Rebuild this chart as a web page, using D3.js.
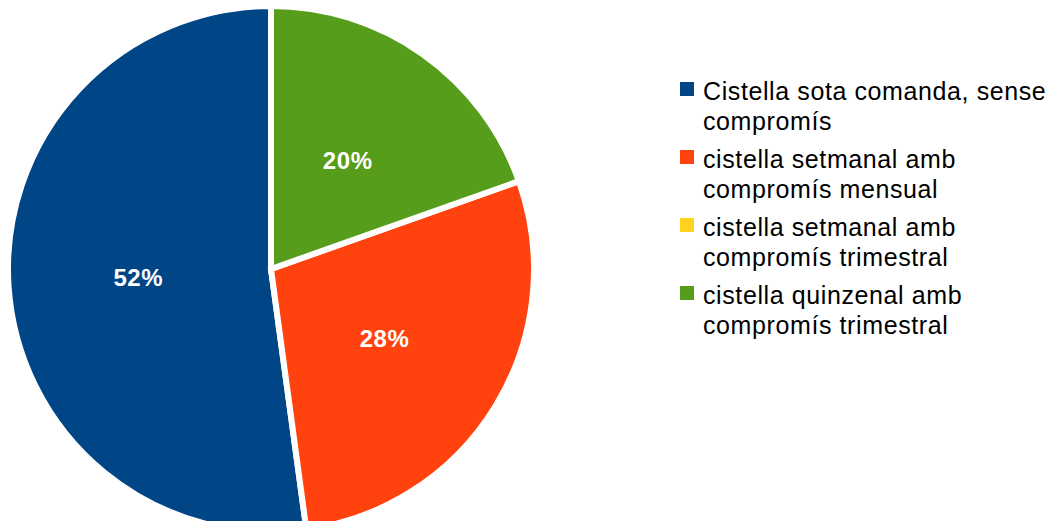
<!DOCTYPE html>
<html lang="ca">
<head>
    <meta charset="UTF-8">
    <title>Cistelles</title>
    <script src="https://d3js.org/d3.v7.min.js"></script>
    <style>
        body { margin: 0; background: #fff; }
        svg { display: block; }
        .legend text { font-family: "Liberation Sans", Arial, sans-serif; font-size: 25px; letter-spacing: 0.6px; fill: #000; }
        .label { font-family: "Liberation Sans", Arial, sans-serif; font-size: 24px; font-weight: bold; letter-spacing: 0.6px; fill: #fff; }
    </style>
</head>
<body>
    <svg id="chart" width="1057" height="521"></svg>

    <script>
        // data (percent of answers)
        const categories = [
            ["Cistella sota comanda, sense", "compromís"],
            ["cistella setmanal amb", "compromís mensual"],
            ["cistella setmanal amb", "compromís trimestral"],
            ["cistella quinzenal amb", "compromís trimestral"]
        ];
        const values = [52.2, 28.3, 0, 19.6];
        const colors = ["#004586", "#ff420e", "#ffd320", "#579d1c"];

        const svg = d3.select("#chart"),
              cx = 271, cy = 269,
              radius = 263;

        const data = values.map((v, i) => ({ name: categories[i].join(" "), value: v, color: colors[i] }));

        // counter-clockwise from 12 o'clock, like the original
        const pie = d3.pie().sort(null).value(d => d.value)
                      .startAngle(0).endAngle(-2 * Math.PI);
        const arc = d3.arc().innerRadius(0).outerRadius(radius);
        const labelArc = d3.arc().innerRadius(133).outerRadius(133);

        const g = svg.append("g").attr("transform", "translate(" + cx + "," + cy + ")");

        const arcs = pie(data).filter(d => d.data.value > 0);

        g.selectAll("path")
         .data(arcs)
         .enter().append("path")
         .attr("d", arc)
         .attr("fill", d => d.data.color)
         .attr("stroke", "#fff")
         .attr("stroke-width", 6)
         .attr("stroke-linejoin", "miter");

        const total = d3.sum(values);
        g.selectAll("text.label")
         .data(arcs)
         .enter().append("text")
         .attr("class", "label")
         .attr("transform", d => "translate(" + labelArc.centroid(d) + ")")
         .attr("text-anchor", "middle")
         .attr("dy", "0.35em")
         .text(d => Math.round(d.data.value / total * 100) + "%");

        // legend
        const legend = svg.append("g").attr("class", "legend");
        const entry = legend.selectAll("g")
            .data(data)
            .enter().append("g")
            .attr("transform", (d, i) => "translate(680," + (82 + i * 68) + ")");

        entry.append("rect")
             .attr("width", 14).attr("height", 14)
             .attr("fill", d => d.color);

        entry.append("text")
             .attr("x", 23)
             .attr("y", 18)
             .selectAll("tspan")
             .data((d, i) => categories[i])
             .enter().append("tspan")
             .attr("x", 23)
             .attr("dy", (t, j) => j === 0 ? 0 : 30)
             .text(t => t);
    </script>
</body>
</html>
